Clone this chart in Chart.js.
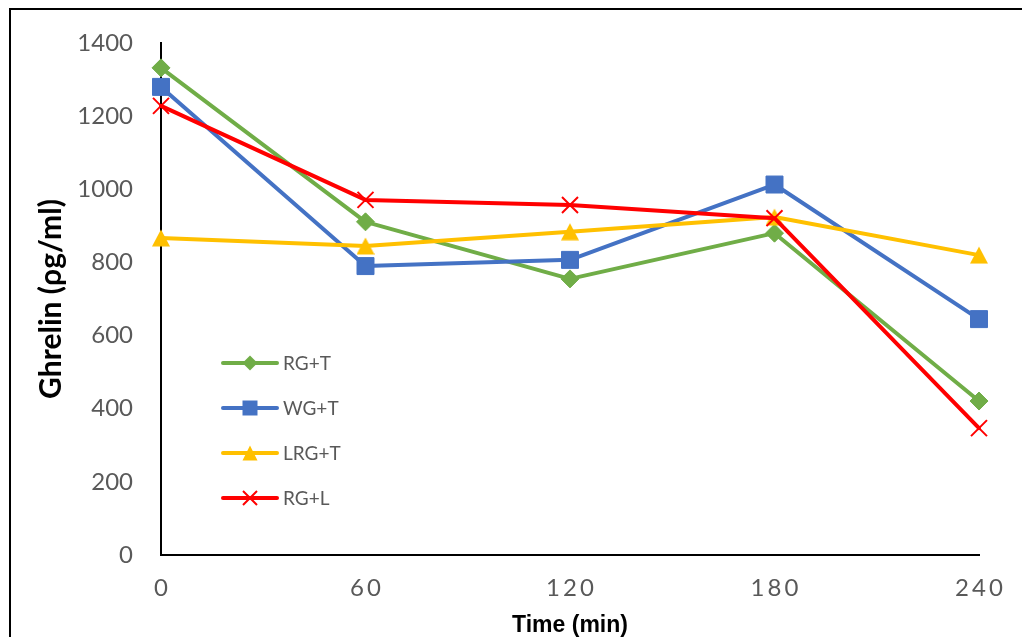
<!DOCTYPE html>
<html>
<head>
<meta charset="utf-8">
<script src="https://cdn.jsdelivr.net/npm/chart.js@4/dist/chart.umd.min.js"></script>
<style>
  html, body { margin: 0; padding: 0; background: #fff; }
  #wrap { width: 1022px; height: 637px; position: relative; }
</style>
</head>
<body>
<div id="wrap"><canvas id="c" width="1022" height="637"></canvas></div>
<script>
// Sampling times (min)
const timePoints = [0, 60, 120, 180, 240];
// Ghrelin (pg/ml) per group
const seriesNames = ['RG+T', 'WG+T', 'LRG+T', 'RG+L'];
const rgT  = [1332, 911, 755, 880, 421];
const wgT  = [1280, 790, 807, 1013, 645];
const lrgT = [867, 845, 884, 924, 820];
const rgL  = [1228, 971, 957, 921, 347];
// Axis ticks
const yTicks = [0, 200, 400, 600, 800, 1000, 1200, 1400];
const xTicks = [0, 60, 120, 180, 240];

const GREEN = '#70AD47', BLUE = '#4472C4', YELLOW = '#FFC000', RED = '#FF0000';
const TICK_COLOR = '#595959';

// Triangle marker (apex up, centred on its bounding box)
function makeTriangle(w, h, color) {
  const c = document.createElement('canvas');
  c.width = w; c.height = h;
  const g = c.getContext('2d');
  g.fillStyle = color;
  g.beginPath();
  g.moveTo(w / 2, 0.5);
  g.lineTo(w, h - 0.5);
  g.lineTo(0, h - 0.5);
  g.closePath();
  g.fill();
  return c;
}
const triMarker = makeTriangle(18, 18, YELLOW);

const toPoints = vals => vals.map((v, i) => ({ x: timePoints[i], y: v }));

const datasets = [
  { label: seriesNames[0], data: toPoints(rgT), borderColor: GREEN, backgroundColor: GREEN,
    pointStyle: 'rectRot', pointRadius: 9, pointBorderWidth: 1, order: 3 },
  { label: seriesNames[1], data: toPoints(wgT), borderColor: BLUE, backgroundColor: BLUE,
    pointStyle: 'rect', pointRadius: 12, pointBorderWidth: 1, order: 2 },
  { label: seriesNames[2], data: toPoints(lrgT), borderColor: YELLOW, backgroundColor: YELLOW,
    pointStyle: triMarker, pointRadius: 9, pointBorderWidth: 1, order: 1 },
  { label: seriesNames[3], data: toPoints(rgL), borderColor: RED, backgroundColor: RED,
    pointStyle: 'crossRot', pointRadius: 11.3, pointBorderWidth: 2, order: 0 }
].map(d => Object.assign({
  borderWidth: 4, tension: 0, fill: false, clip: false,
  borderJoinStyle: 'round', borderCapStyle: 'round',
  pointBorderColor: d.borderColor, pointBackgroundColor: d.backgroundColor
}, d));

// Outer frame on the top and left edges
const framePlugin = {
  id: 'frame',
  beforeDraw(chart) {
    const ctx = chart.ctx;
    ctx.save();
    ctx.strokeStyle = '#000';
    ctx.lineWidth = 2;
    ctx.beginPath();
    ctx.moveTo(10, chart.height);
    ctx.lineTo(10, 9);
    ctx.lineTo(chart.width, 9);
    ctx.stroke();
    ctx.restore();
  }
};

// Legend drawn inside the plot area, one row per series
function drawMarker(ctx, style, color, x, y, s) {
  ctx.save();
  ctx.fillStyle = color; ctx.strokeStyle = color;
  ctx.beginPath();
  if (style === 'rectRot') {
    const r = 7.5 * s;
    ctx.moveTo(x - r, y); ctx.lineTo(x, y - r); ctx.lineTo(x + r, y); ctx.lineTo(x, y + r);
    ctx.closePath(); ctx.fill();
  } else if (style === 'rect') {
    const h = 7.5 * s;
    ctx.rect(x - h, y - h, 2 * h, 2 * h); ctx.fill();
  } else if (style === 'crossRot') {
    const h = 7 * s;
    ctx.lineWidth = 2;
    ctx.moveTo(x - h, y - h); ctx.lineTo(x + h, y + h);
    ctx.moveTo(x + h, y - h); ctx.lineTo(x - h, y + h);
    ctx.stroke();
  } else {
    const w = 15 * s, hh = 15 * s;
    ctx.moveTo(x, y - hh / 2); ctx.lineTo(x + w / 2, y + hh / 2); ctx.lineTo(x - w / 2, y + hh / 2);
    ctx.closePath(); ctx.fill();
  }
  ctx.restore();
}
const innerLegend = {
  id: 'innerLegend',
  afterDatasetsDraw(chart) {
    const ctx = chart.ctx, a = chart.chartArea;
    const x0 = a.left + 62, x1 = a.left + 116, xm = (x0 + x1) / 2;
    const yStart = a.top + 320, step = 45;
    chart.data.datasets.forEach((d, i) => {
      const y = yStart + i * step;
      ctx.save();
      ctx.strokeStyle = d.borderColor; ctx.lineWidth = 4; ctx.lineCap = 'round';
      ctx.beginPath(); ctx.moveTo(x0, y); ctx.lineTo(x1, y); ctx.stroke();
      ctx.restore();
      const st = typeof d.pointStyle === 'string' ? d.pointStyle : 'triangle';
      drawMarker(ctx, st, d.borderColor, xm, y, 1);
      ctx.save();
      ctx.fillStyle = TICK_COLOR;
      ctx.font = '19px Lato';
      ctx.textBaseline = 'middle';
      ctx.textAlign = 'left';
      ctx.fillText(d.label, x1 + 6, y + 1);
      ctx.restore();
    });
  }
};

new Chart(document.getElementById('c'), {
  type: 'line',
  data: { datasets },
  options: {
    responsive: false,
    animation: false,
    events: [],
    layout: { padding: { top: 43, right: 43, bottom: 0, left: 0 } },
    plugins: { legend: { display: false }, tooltip: { enabled: false } },
    scales: {
      x: {
        type: 'linear', min: 0, max: 240,
        afterBuildTicks: s => { s.ticks = xTicks.map(v => ({ value: v })); },
        afterFit: s => {
          s.height = 82;
          if (!s._spaced) {
            const orig = s.drawLabels.bind(s);
            s.drawLabels = area => {
              const ctx = s.ctx;
              ctx.save();
              ctx.letterSpacing = '3px';
              ctx.translate(1.5, 0);
              orig(area);
              ctx.restore();
            };
            s._spaced = true;
          }
        },
        grid: { display: false },
        border: { display: true, color: '#000', width: 2 },
        ticks: { color: TICK_COLOR, font: { family: 'Lato', size: 24 }, padding: 11, maxRotation: 0,
          callback: v => String(v) },
        title: { display: true, text: 'Time (min)', color: '#000',
          font: { family: 'Liberation Sans', size: 23, weight: 'bold', lineHeight: 1 },
          padding: { top: 0, bottom: 0 } }
      },
      y: {
        type: 'linear', min: 0, max: 1400,
        afterBuildTicks: s => { s.ticks = yTicks.map(v => ({ value: v })); },
        afterFit: s => { s.width = 161; },
        grid: { display: false },
        border: { display: true, color: '#000', width: 2 },
        ticks: { color: TICK_COLOR, font: { family: 'Lato', size: 24 }, padding: 20,
          callback: v => String(v) },
        title: { display: true, text: 'Ghrelin (ρg/ml)', color: '#000',
          font: { family: 'Lato', size: 30, weight: 'bold', lineHeight: 1 },
          padding: { top: 36, bottom: 0 } }
      }
    }
  },
  plugins: [framePlugin, innerLegend]
});
</script>
</body>
</html>
